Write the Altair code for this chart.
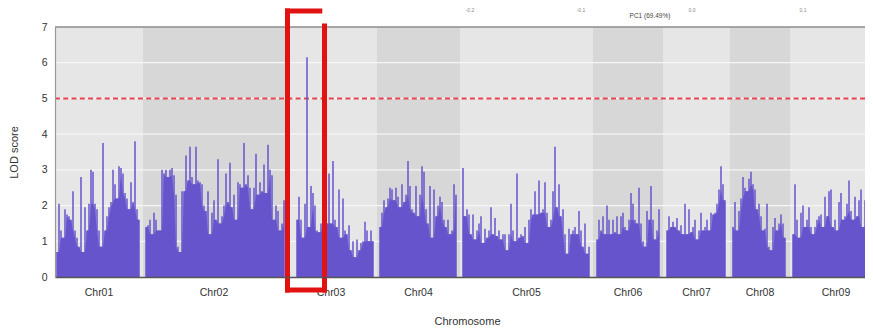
import altair as alt
import pandas as pd

# ---------------- data ----------------
chrom_names = ["Chr01", "Chr02", "Chr03", "Chr04", "Chr05", "Chr06", "Chr07", "Chr08", "Chr09"]
chrom_lengths = [44, 71, 46, 41.5, 66.5, 35, 33.5, 30, 46]          # Mb
first_marker = [1, 1.5, 6, 1.5, 1.5, 2, 2, 1.5, 1.5]                  # Mb from chromosome start
marker_step = 1.0                                                     # Mb between markers

lod_chr01 = [0.7, 2.05, 1.3, 1.1, 1.9, 1.75, 1.7, 1.6, 2.4, 1.3, 1.1, 0.85, 2.8, 0.7, 1.95, 1.3,
             2.05, 3.0, 2.95, 2.05, 1.9, 1.3, 0.85, 3.75, 1.3, 1.7, 1.95, 2.1, 3.0, 2.6, 2.2, 3.1,
             3.05, 2.9, 2.35, 2.2, 1.9, 2.65, 2.1, 3.8, 1.9, 1.6]
lod_chr02 = [1.4, 1.45, 1.6, 1.2, 1.8, 1.6, 1.3, 1.3, 3.0, 2.9, 3.0, 2.8, 3.0, 3.05, 2.85, 2.3,
             0.85, 0.7, 2.4, 2.4, 3.4, 2.7, 3.65, 2.8, 2.6, 3.65, 2.7, 2.65, 2.6, 2.0, 1.85, 2.4,
             1.2, 1.8, 2.15, 1.6, 3.3, 1.5, 1.7, 2.0, 2.9, 2.1, 3.2, 1.95, 2.3, 1.6, 2.65, 2.6,
             2.5, 3.75, 2.6, 2.85, 2.5, 1.9, 2.5, 3.45, 2.3, 2.65, 2.4, 3.15, 2.35, 3.7, 3.0, 2.85,
             1.6, 2.0, 1.85, 1.3, 1.5, 2.15]
lod_chr03 = [1.6, 2.25, 1.6, 1.1, 2.05, 6.15, 1.4, 2.55, 2.35, 2.0, 1.3, 1.25, 1.5, 1.6, 1.8, 1.5,
             2.9, 1.5, 3.25, 1.6, 1.4, 2.45, 1.1, 2.2, 1.3, 1.2, 1.45, 0.75, 1.0, 0.55, 1.05, 0.75,
             0.95, 1.0, 1.55, 1.3, 1.0, 1.3, 1.0]
lod_chr04 = [1.4, 1.8, 2.15, 1.95, 2.2, 2.5, 2.45, 2.15, 2.5, 2.25, 1.95, 2.6, 2.1, 2.3, 3.25, 2.55,
             1.9, 1.8, 2.55, 1.7, 2.3, 3.1, 2.95, 1.9, 1.5, 2.55, 1.1, 2.45, 1.7, 2.0, 2.25, 2.1,
             1.6, 1.4, 1.6, 1.2, 1.3, 2.6, 2.3]
lod_chr05 = [3.05, 1.7, 1.9, 1.75, 1.2, 1.75, 1.05, 1.3, 1.5, 1.7, 0.95, 1.35, 1.1, 1.3, 1.95, 1.2,
             1.65, 1.15, 1.3, 1.05, 1.2, 1.2, 0.75, 1.2, 2.05, 1.3, 1.0, 2.9, 1.1, 1.2, 1.15, 1.4,
             0.95, 1.6, 1.9, 1.75, 2.4, 1.75, 2.7, 1.8, 1.9, 2.65, 1.8, 1.4, 1.6, 2.4, 3.65, 1.95,
             2.6, 1.7, 1.9, 1.2, 0.65, 1.35, 1.2, 1.3, 1.4, 1.2, 1.85, 1.3, 0.85, 1.5, 0.65, 0.85]
lod_chr06 = [1.05, 1.6, 1.3, 1.7, 1.2, 2.0, 1.6, 1.2, 1.6, 1.25, 1.7, 1.2, 1.7, 1.8, 1.4, 1.3,
             1.6, 2.35, 2.05, 1.6, 1.5, 2.5, 1.5, 1.0, 0.85, 1.85, 1.6, 2.55, 1.6, 1.05, 1.3, 1.9]
lod_chr07 = [1.3, 1.7, 1.4, 1.55, 1.4, 1.65, 1.3, 1.45, 1.2, 2.05, 1.2, 1.9, 1.25, 1.4, 1.6, 1.05,
             1.3, 1.8, 1.3, 1.4, 1.6, 1.3, 1.8, 1.75, 1.8, 2.05, 2.45, 3.1, 2.6, 2.15]
lod_chr08 = [1.4, 2.1, 1.3, 1.85, 2.2, 2.8, 2.5, 2.4, 2.75, 2.95, 2.6, 2.45, 1.9, 2.05, 1.7, 1.3,
             1.35, 2.05, 0.85, 0.75, 1.4, 1.65, 1.3, 1.5, 1.75, 1.5, 1.1]
lod_chr09 = [1.2, 2.6, 1.6, 1.1, 1.8, 2.0, 1.4, 1.6, 1.95, 1.4, 1.2, 1.4, 1.6, 1.7, 1.75, 1.4,
             2.25, 1.7, 2.4, 2.45, 1.4, 1.6, 1.3, 2.1, 2.35, 1.6, 1.7, 2.05, 2.7, 1.85, 1.6, 2.25,
             1.7, 2.15, 2.45, 1.4, 2.15, 2.2, 1.8, 2.85, 2.3]
lod_series = [lod_chr01, lod_chr02, lod_chr03, lod_chr04, lod_chr05,
              lod_chr06, lod_chr07, lod_chr08, lod_chr09]

y_ticks = [0, 1, 2, 3, 4, 5, 6, 7]
grid_values = [1, 2, 3, 4, 5, 6]
threshold = [5.0]

# highlight bracket around the Chr03 peak (Mb, LOD)
bracket_x = [116.25, 116.25, 116.25, 134.75]
bracket_x2 = [116.25, 132.4, 134.75, 134.75]
bracket_y = [-0.364, 7.45, -0.364, -0.364]
bracket_y2 = [7.45, 7.45, -0.364, 7.03]

# fragment of the PCA panel above
pc_ticks = [-0.2, -0.1, 0.0, 0.1]
pc_tick_labels = ["-0.2", "-0.1", "0.0", "0.1"]
pc_title = "PC1 (69.49%)"

# ---------------- tables ----------------
starts = []
acc = 0.0
for L in chrom_lengths:
    starts.append(acc)
    acc += L
x_max = 405

band_df = pd.DataFrame({
    "chrom": chrom_names,
    "start": starts,
    "end": [s + L for s, L in zip(starts, chrom_lengths)],
    "center": [s + L / 2 for s, L in zip(starts, chrom_lengths)],
    "shade": ["light" if i % 2 == 0 else "dark" for i in range(len(chrom_names))],
})

rows = []
for name, s, off, vals in zip(chrom_names, starts, first_marker, lod_series):
    n = len(vals)
    for i, v in enumerate(vals):
        lo = min(vals[max(i - 1, 0)], v, vals[min(i + 1, n - 1)])
        rows.append({"chrom": name, "pos": s + off + i * marker_step, "lod": v, "body": lo})
lod_df = pd.DataFrame(rows)

grid_df = pd.DataFrame({"v": grid_values})
thr_df = pd.DataFrame({"v": threshold})
top_df = pd.DataFrame({"v": [y_ticks[-1]]})
br_df = pd.DataFrame({"x": bracket_x, "x2": bracket_x2, "y": bracket_y, "y2": bracket_y2})
pc_df = pd.DataFrame({"t": pc_ticks, "lbl": pc_tick_labels})
pc_title_df = pd.DataFrame({"lbl": [pc_title]})

FONT = "Liberation Sans"
PURPLE = "#6655cc"
xs = alt.Scale(domain=[0, x_max], nice=False, zero=False)
ys = alt.Scale(domain=[0, 7], nice=False)

x_axis = alt.Axis(labels=False, ticks=False, grid=False, domainColor="#555555", domainWidth=1.5,
                  title="Chromosome", titleX=412, titleY=44, titleBaseline="middle",
                  titleAlign="center", titleFontSize=11, titleFontWeight="normal",
                  titleColor="#333333", titleFont=FONT, zindex=1)
y_axis = alt.Axis(values=y_ticks, ticks=False, grid=False, labelPadding=8, labelFontSize=10.5,
                  labelColor="#333333", labelFont=FONT, domainColor="#999999", domainWidth=1.2,
                  labelOverlap=False,
                  title="LOD score", titleX=-41, titleY=125, titleAngle=270, titleAlign="center",
                  titleBaseline="middle", titleFontSize=11, titleFontWeight="normal",
                  titleColor="#333333", titleFont=FONT, zindex=1)

bands = alt.Chart(band_df).mark_rect(clip=True).encode(
    x=alt.X("start:Q", scale=xs, axis=x_axis),
    x2="end:Q",
    color=alt.Color("shade:N", scale=alt.Scale(domain=["light", "dark"],
                                               range=["#e6e6e6", "#d7d7d7"]), legend=None),
)

grid = alt.Chart(grid_df).mark_rule(color="#f6f6f6", strokeWidth=1.3).encode(
    y=alt.Y("v:Q", scale=ys, axis=y_axis)
)

top_border = alt.Chart(top_df).mark_rule(color="#8c8c8c", strokeWidth=1.5).encode(
    y=alt.Y("v:Q", scale=ys, axis=y_axis)
)

thr = alt.Chart(thr_df).mark_rule(color="#e8424f", strokeWidth=2, strokeDash=[5, 3.3]).encode(
    y=alt.Y("v:Q", scale=ys, axis=y_axis)
)

body = alt.Chart(lod_df).mark_area(color=PURPLE, clip=True, interpolate="linear").encode(
    x=alt.X("pos:Q", scale=xs, axis=x_axis),
    y=alt.Y("body:Q", scale=ys, axis=y_axis),
    y2=alt.datum(0),
    detail="chrom:N",
)

spikes = alt.Chart(lod_df).mark_rule(color=PURPLE, strokeWidth=1.5, clip=True).encode(
    x=alt.X("pos:Q", scale=xs, axis=x_axis),
    y=alt.Y("lod:Q", scale=ys, axis=y_axis),
    y2=alt.datum(0),
)

chrom_lbl = alt.Chart(band_df).mark_text(font=FONT, fontSize=10.5, color="#333333",
                                         baseline="middle").encode(
    x=alt.X("center:Q", scale=xs, axis=x_axis),
    y=alt.value(266),
    text="chrom:N",
)

bracket = alt.Chart(br_df).mark_rule(color="#e01212", strokeWidth=5, strokeCap="square").encode(
    x=alt.X("x:Q", scale=xs, axis=x_axis), x2="x2:Q",
    y=alt.Y("y:Q", scale=ys, axis=y_axis), y2="y2:Q",
)

main = alt.layer(bands, grid, top_border, thr, body, spikes, chrom_lbl, bracket)

pc_scale = alt.Scale(domain=[-0.2, 0.1], range=[415, 748], nice=False, zero=False)
pc_ticks_layer = alt.Chart(pc_df).mark_text(font=FONT, fontSize=5, color="#888888",
                                            baseline="top").encode(
    x=alt.X("t:Q", scale=pc_scale, axis=None),
    y=alt.value(-19),
    text="lbl:N",
)
pc_title_layer = alt.Chart(pc_title_df).mark_text(font=FONT, fontSize=6.5, color="#444444",
                                                  baseline="middle").encode(
    x=alt.value(595),
    y=alt.value(-11),
    text="lbl:N",
)

chart = alt.layer(main, pc_ticks_layer, pc_title_layer).resolve_scale(x="independent").properties(
    width=810,
    height=250,
    padding={"left": 47, "top": 19, "right": 0, "bottom": 52},
    autosize=alt.AutoSizeParams(type="none"),
    background="white",
).configure_view(stroke=None).configure(font=FONT)

chart.save("out.html", embed_options={"renderer": "svg", "actions": False})
